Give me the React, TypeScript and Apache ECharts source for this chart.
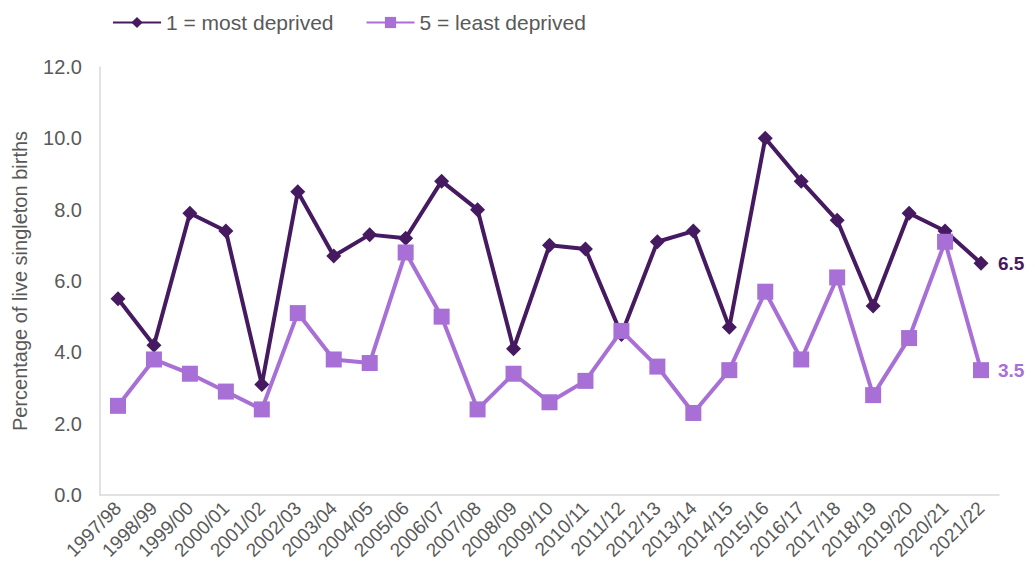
import React, { useEffect, useRef } from "react";
import * as echarts from "echarts";

const categories = [
  "1997/98", "1998/99", "1999/00", "2000/01", "2001/02", "2002/03", "2003/04",
  "2004/05", "2005/06", "2006/07", "2007/08", "2008/09", "2009/10", "2010/11",
  "2011/12", "2012/13", "2013/14", "2014/15", "2015/16", "2016/17", "2017/18",
  "2018/19", "2019/20", "2020/21", "2021/22",
];

const mostDeprived = [
  5.5, 4.2, 7.9, 7.4, 3.1, 8.5, 6.7, 7.3, 7.2, 8.8, 8.0, 4.1, 7.0, 6.9, 4.5,
  7.1, 7.4, 4.7, 10.0, 8.8, 7.7, 5.3, 7.9, 7.4, 6.5,
];

const leastDeprived = [
  2.5, 3.8, 3.4, 2.9, 2.4, 5.1, 3.8, 3.7, 6.8, 5.0, 2.4, 3.4, 2.6, 3.2, 4.6,
  3.6, 2.3, 3.5, 5.7, 3.8, 6.1, 2.8, 4.4, 7.1, 3.5,
];

const DARK = "#461a61";
const LIGHT = "#a86fd6";
const FONT = "'Liberation Sans', Arial, sans-serif";

export default function App() {
  const ref = useRef<HTMLDivElement>(null);
  useEffect(() => {
    if (!ref.current) return;
    const chart = echarts.init(ref.current, null, { renderer: "svg" });
    chart.setOption({
      animation: false,
      textStyle: { fontFamily: FONT },
      legend: {
        top: 7,
        left: 107,
        itemWidth: 48,
        itemHeight: 14,
        itemGap: 32,
        textStyle: { fontSize: 21, color: "#595959", fontFamily: FONT },
        data: ["1 = most deprived", "5 = least deprived"],
      },
      grid: { left: 100, right: 36, top: 67, bottom: 87, containLabel: false },
      xAxis: {
        type: "category",
        data: categories,
        boundaryGap: true,
        axisLine: { show: true, lineStyle: { color: "#d9d9d9", width: 1.5 } },
        axisTick: { show: false },
        axisLabel: {
          rotate: 45,
          interval: 0,
          fontSize: 19,
          color: "#595959",
          margin: 10,
          fontFamily: FONT,
        },
      },
      yAxis: {
        type: "value",
        min: 0,
        max: 12,
        interval: 2,
        name: "Percentage of live singleton births",
        nameLocation: "middle",
        nameGap: 70,
        nameRotate: 90,
        nameTextStyle: { fontSize: 20, color: "#595959", fontFamily: FONT },
        axisLine: { show: true, lineStyle: { color: "#d9d9d9", width: 1.5 } },
        axisTick: { show: false },
        splitLine: { show: false },
        axisLabel: {
          fontSize: 20,
          color: "#595959",
          margin: 18,
          fontFamily: FONT,
          formatter: (v: number) => v.toFixed(1),
        },
      },
      series: [
        {
          name: "1 = most deprived",
          type: "line",
          data: mostDeprived,
          symbol: "diamond",
          symbolSize: 15,
          lineStyle: { color: DARK, width: 4 },
          itemStyle: { color: DARK },
          endLabel: {
            show: true,
            formatter: (p: any) => Number(p.value).toFixed(1),
            color: DARK,
            fontWeight: "bold",
            fontSize: 19,
            distance: 17,
            fontFamily: FONT,
          },
          z: 2,
        },
        {
          name: "5 = least deprived",
          type: "line",
          data: leastDeprived,
          symbol: "rect",
          symbolSize: 16,
          lineStyle: { color: LIGHT, width: 4 },
          itemStyle: { color: LIGHT },
          endLabel: {
            show: true,
            formatter: (p: any) => Number(p.value).toFixed(1),
            color: LIGHT,
            fontWeight: "bold",
            fontSize: 19,
            distance: 17,
            fontFamily: FONT,
          },
          z: 3,
        },
      ],
    });
    return () => chart.dispose();
  }, []);
  return <div ref={ref} style={{ width: 1035, height: 582, margin: -8 }} />;
}
